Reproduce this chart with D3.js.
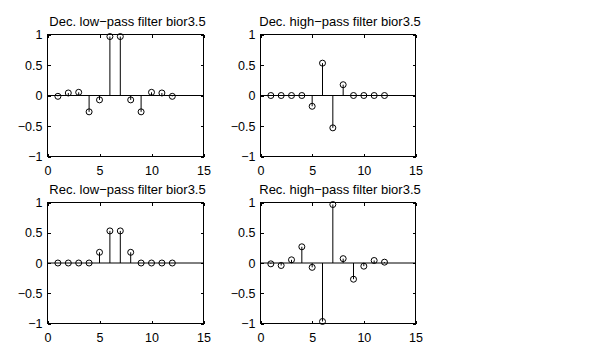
<!DOCTYPE html>
<html>
<head>
<meta charset="utf-8">
<script src="https://cdn.jsdelivr.net/npm/d3@7"></script>
<style>
  body { margin: 0; background: #fff; }
  text { font-family: "Liberation Sans", Arial, sans-serif; fill: #000; }
</style>
</head>
<body>
<div id="chart"></div>
<script>
// bior3.5 filters
const idx = [1, 2, 3, 4, 5, 6, 7, 8, 9, 10, 11, 12];
const loD = [-0.0138, 0.0414, 0.0525, -0.2679, -0.0718, 0.9667, 0.9667, -0.0718, -0.2679, 0.0525, 0.0414, -0.0138];
const hiD = [0, 0, 0, 0, -0.1768, 0.5303, -0.5303, 0.1768, 0, 0, 0, 0];
const loR = [0, 0, 0, 0, 0.1768, 0.5303, 0.5303, 0.1768, 0, 0, 0, 0];
const hiR = [-0.0138, -0.0414, 0.0525, 0.2679, -0.0718, -0.9667, 0.9667, 0.0718, -0.2679, -0.0525, 0.0414, 0.0138];
const titles = ["Dec. low\u2212pass filter bior3.5", "Dec. high\u2212pass filter bior3.5",
                "Rec. low\u2212pass filter bior3.5", "Rec. high\u2212pass filter bior3.5"];
const xTicks = [0, 5, 10, 15];
const yTicks = [-1, -0.5, 0, 0.5, 1];

const svg = d3.select("#chart").append("svg")
    .attr("width", 597)
    .attr("height", 352);

// axes boxes: [left, top, width, height]
const boxes = [
  [47.5, 34.5, 156, 122],
  [260.5, 34.5, 155, 122],
  [47.5, 202.5, 156, 121],
  [260.5, 202.5, 155, 121]
];
const series = [loD, hiD, loR, hiR];

const fmt = d => d < 0 ? "\u2212" + Math.abs(d) : String(d);

boxes.forEach(function(b, i) {
  const [left, top, w, h] = b;
  const g = svg.append("g").attr("transform", "translate(" + left + "," + top + ")");

  const x = d3.scaleLinear().domain([0, 15]).range([0, w]);
  const y = d3.scaleLinear().domain([-1, 1]).range([h, 0]);

  // ticks, pointing inward, on all four sides
  const xb = g.append("g").attr("transform", "translate(0," + h + ")")
    .call(d3.axisBottom(x).tickValues(xTicks).tickSize(-3).tickPadding(9).tickFormat(fmt));
  const xt = g.append("g")
    .call(d3.axisTop(x).tickValues(xTicks).tickSize(-3).tickFormat(""));
  const yl = g.append("g")
    .call(d3.axisLeft(y).tickValues(yTicks).tickSize(-3).tickPadding(5).tickFormat(fmt));
  const yr = g.append("g").attr("transform", "translate(" + w + ",0)")
    .call(d3.axisRight(y).tickValues(yTicks).tickSize(-3).tickFormat(""));
  [xb, xt, yl, yr].forEach(a => {
    a.select(".domain").remove();
    a.selectAll("line").attr("stroke", "#000").attr("shape-rendering", "crispEdges");
    a.selectAll("text").attr("font-size", 12.5).attr("font-family", null);
  });
  xb.selectAll("text").attr("dy", "0.75em");

  // box
  g.append("rect")
    .attr("width", w).attr("height", h)
    .attr("fill", "none").attr("stroke", "#000")
    .attr("shape-rendering", "crispEdges");

  // baseline
  g.append("line")
    .attr("x1", x(0)).attr("x2", x(15))
    .attr("y1", y(0)).attr("y2", y(0))
    .attr("stroke", "#000");

  const vals = series[i];
  // stems
  g.selectAll(".stem").data(idx).enter().append("line")
    .attr("class", "stem")
    .attr("x1", d => x(d)).attr("x2", d => x(d))
    .attr("y1", y(0)).attr("y2", (d, j) => y(vals[j]))
    .attr("stroke", "#000");
  // markers
  g.selectAll(".mk").data(idx).enter().append("circle")
    .attr("class", "mk")
    .attr("cx", d => x(d)).attr("cy", (d, j) => y(vals[j]))
    .attr("r", 3)
    .attr("fill", "none").attr("stroke", "#000");

  // title
  g.append("text")
    .attr("x", w / 2 + 2).attr("y", -9)
    .attr("text-anchor", "middle")
    .attr("font-size", 13)
    .text(titles[i]);
});
</script>
</body>
</html>
